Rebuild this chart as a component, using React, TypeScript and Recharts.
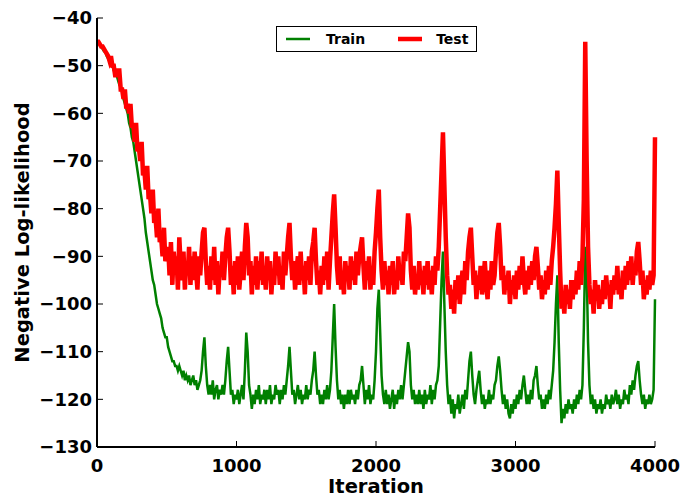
import React from "react";
import { LineChart, Line, XAxis, YAxis, Legend } from "recharts";

// sampled every 10 iterations, 0..4000
const STEP = 10;
const iterations = Array.from({ length: 401 }, (_, i) => i * STEP);

const testNll = [
  // 0..500
  -45, -45, -45.5, -46, -46, -46.5, -47, -47.5, -48, -49,
  -48, -50, -50, -52, -52, -51, -51, -55, -55, -57,
  -55, -59, -58, -60, -58, -63, -62, -66, -62, -68,
  -67, -70, -66, -73, -72, -76, -71, -78, -77, -81,
  -76, -83, -82, -86, -80, -87, -86, -90, -84, -91,
  -90,
  // 510..1000
  -88, -94, -87, -96, -89, -93, -90, -97, -86, -92,
  -95, -89, -97, -91, -94, -88, -96, -90, -95, -89,
  -93, -97, -90, -94, -89, -85, -84, -91, -96, -92,
  -97, -90, -95, -88, -96, -91, -98, -92, -94, -89,
  -95, -90, -86, -84, -89, -96, -92, -98, -91, -96,
  // 1010..1500
  -90, -97, -93, -89, -95, -88, -83, -86, -94, -91,
  -98, -92, -96, -90, -97, -91, -95, -89, -96, -92,
  -97, -90, -95, -91, -98, -93, -96, -89, -94, -90,
  -96, -92, -97, -89, -94, -90, -86, -83, -90, -95,
  -91, -97, -93, -90, -96, -89, -95, -92, -98, -91,
  // 1510..2000
  -95, -90, -96, -89, -87, -84, -91, -96, -93, -98,
  -92, -96, -90, -95, -89, -97, -91, -86, -81, -77,
  -84, -92, -96, -90, -97, -93, -98, -91, -95, -92,
  -97, -90, -95, -91, -96, -89, -94, -90, -88, -86,
  -92, -97, -91, -95, -90, -97, -92, -96, -89, -85,
  // 2010..2500
  -80, -76, -86, -93, -97, -91, -96, -93, -98, -92,
  -96, -91, -98, -93, -97, -90, -95, -92, -96, -89,
  -91, -86, -81, -84, -93, -97, -92, -98, -94, -97,
  -91, -96, -93, -98, -92, -96, -91, -97, -93, -98,
  -92, -96, -90, -93, -88, -80, -72, -64, -75, -86,
  // 2510..3000
  -94, -98, -96, -101, -97, -102, -95, -99, -94, -100,
  -96, -93, -98, -91, -95, -89, -86, -84, -90, -96,
  -93, -99, -94, -97, -92, -98, -95, -91, -96, -99,
  -93, -97, -91, -96, -94, -89, -85, -83, -88, -95,
  -92, -98, -94, -97, -93, -100, -95, -98, -94, -99,
  // 3010..3500
  -93, -97, -92, -96, -90, -95, -98, -93, -97, -92,
  -96, -91, -95, -90, -88, -92, -97, -94, -99, -95,
  -98, -93, -97, -92, -96, -91, -88, -84, -79, -72,
  -83, -93, -101, -98, -102, -96, -100, -97, -101, -95,
  -99, -95, -98, -93, -97, -91, -96, -90, -78, -45,
  // 3510..4000
  -70, -88, -96, -100, -97, -102, -95, -99, -96, -101,
  -97, -100, -95, -99, -94, -98, -96, -101, -95, -98,
  -94, -97, -92, -98, -95, -99, -93, -97, -92, -96,
  -91, -95, -90, -96, -92, -94, -89, -87, -91, -96,
  -93, -99, -95, -98, -94, -97, -93, -96, -94, -65,
];

const trainNll = [
  // 0..500
  -45, -45, -45.5, -46, -46.5, -47, -47, -48, -48.5, -49,
  -49, -50, -51, -51.5, -52, -53, -54, -54.5, -55, -57,
  -58, -59, -60, -62, -63, -65, -66, -68, -70, -72,
  -74, -76, -78, -80, -82, -85, -87, -89, -91, -93,
  -95, -96, -98, -100, -101, -102, -103, -105, -106, -107,
  -107,
  // 510..1000
  -109, -110, -111, -112, -112, -113, -113, -114, -113, -114,
  -115, -114, -116, -115, -116, -115, -117, -116, -115, -117,
  -116, -118, -117, -116, -114, -110, -107, -113, -117, -119,
  -117, -119, -116, -120, -118, -117, -120, -118, -119, -117,
  -119, -116, -112, -109, -114, -119, -118, -121, -119, -120,
  // 1010..1500
  -118, -121, -119, -117, -120, -114, -106, -110, -117, -119,
  -122, -119, -121, -118, -120, -117, -121, -119, -120, -118,
  -121, -118, -120, -117, -121, -119, -120, -117, -119, -118,
  -121, -118, -120, -117, -119, -116, -113, -109, -114, -119,
  -118, -121, -119, -117, -120, -118, -121, -119, -120, -117,
  // 1510..2000
  -120, -118, -119, -116, -114, -110, -115, -119, -118, -121,
  -119, -121, -118, -120, -117, -120, -118, -114, -107, -100,
  -109, -116, -120, -118, -121, -119, -122, -119, -121, -118,
  -121, -118, -120, -119, -121, -118, -120, -117, -116, -113,
  -117, -121, -118, -120, -117, -121, -119, -120, -116, -110,
  // 2010..2500
  -101, -97, -106, -115, -119, -121, -118, -121, -119, -122,
  -120, -118, -122, -119, -121, -118, -120, -117, -120, -117,
  -114, -111, -108, -110, -117, -120, -118, -121, -119, -121,
  -118, -121, -119, -122, -118, -121, -119, -120, -117, -121,
  -118, -120, -117, -116, -113, -104, -95, -89, -100, -110,
  // 2510..3000
  -117, -121, -119, -123, -120, -124, -121, -122, -119, -123,
  -121, -119, -122, -118, -120, -116, -112, -110, -115, -119,
  -121, -118, -116, -114, -118, -121, -119, -122, -120, -121,
  -118, -121, -119, -120, -117, -116, -113, -111, -114, -118,
  -121, -119, -122, -120, -123, -124, -121, -123, -120, -122,
  // 3010..3500
  -119, -121, -118, -120, -117, -115, -118, -121, -119, -121,
  -118, -120, -116, -115, -113, -117, -120, -119, -122, -120,
  -122, -119, -121, -118, -120, -117, -114, -108, -100, -94,
  -108, -118, -125, -122, -124, -121, -123, -120, -122, -121,
  -123, -120, -122, -119, -121, -118, -120, -117, -105, -88,
  // 3510..4000
  -92, -108, -117, -121, -119, -122, -120, -123, -121, -122,
  -120, -123, -121, -122, -119, -121, -120, -122, -119, -121,
  -120, -118, -121, -119, -122, -120, -121, -118, -120, -119,
  -121, -117, -119, -116, -118, -115, -113, -112, -116, -119,
  -121, -119, -122, -120, -121, -119, -121, -120, -118, -99,
];

const xTicks = [0, 1000, 2000, 3000, 4000];
const yTicks = [-130, -120, -110, -100, -90, -80, -70, -60, -50, -40];

const data = iterations.map((iter, i) => ({
  iter,
  train: trainNll[i],
  test: testNll[i],
}));

const FONT = "'DejaVu Sans', sans-serif";
const tickStyle = { fill: "#000", fontSize: 18, fontWeight: "bold", fontFamily: FONT };
const fmt = (v: number) => (v < 0 ? `\u2212${-v}` : `${v}`);
const noLabel = () => <g />;

const YTitle = (props: any) => {
  const vb = props.viewBox || {};
  const cx = 22;
  const cy = (vb.y ?? 18) + (vb.height ?? 429) / 2;
  return (
    <text
      x={cx}
      y={cy}
      transform={`rotate(-90 ${cx} ${cy})`}
      textAnchor="middle"
      dominantBaseline="central"
      style={{ fontSize: 19.5, fontWeight: "bold", fontFamily: FONT, fill: "#000" }}
    >
      Negative Log-likelihood
    </text>
  );
};

const XTitle = (props: any) => {
  const vb = props.viewBox || {};
  const cx = (vb.x ?? 97) + (vb.width ?? 558) / 2;
  return (
    <text
      x={cx}
      y={493}
      textAnchor="middle"
      style={{ fontSize: 19.5, fontWeight: "bold", fontFamily: FONT, fill: "#000" }}
    >
      Iteration
    </text>
  );
};

const lineThickness: Record<string, number> = { Train: 2.5, Test: 4.5 };
const legendOrder = ["Train", "Test"];

const LegendBox = (props: any) => {
  const items = [...(props.payload || [])].sort(
    (a: any, b: any) => legendOrder.indexOf(a.value) - legendOrder.indexOf(b.value)
  );
  return (
    <div
      style={{
        width: 201,
        height: 26,
        border: "1px solid #000",
        boxSizing: "border-box",
        background: "#fff",
        display: "flex",
        alignItems: "center",
        fontFamily: FONT,
        fontWeight: "bold",
        fontSize: 14,
        color: "#000",
      }}
    >
      {items.map((e: any, i: number) => (
        <div key={e.value} style={{ display: "flex", alignItems: "center", marginLeft: i === 0 ? 9 : 33 }}>
          <svg width={24} height={8}>
            <line x1={0} x2={24} y1={4} y2={4} stroke={e.color} strokeWidth={lineThickness[e.value] ?? 2} />
          </svg>
          <span style={{ marginLeft: i === 0 ? 16 : 14 }}>{e.value}</span>
        </div>
      ))}
    </div>
  );
};

export default function App() {
  return (
    <div style={{ position: "absolute", left: 0, top: 0, fontFamily: FONT }}>
      <LineChart width={681} height={499} data={data} margin={{ top: 18, right: 26, left: 0, bottom: 0 }}>
        <XAxis
          dataKey="iter"
          type="number"
          domain={[0, 4000]}
          ticks={xTicks}
          height={52}
          tickSize={-6}
          tickMargin={18}
          tick={tickStyle}
          tickFormatter={fmt}
          axisLine={{ stroke: "#000", strokeWidth: 2 }}
          tickLine={{ stroke: "#000", strokeWidth: 1 }}
          label={<XTitle />}
          interval={0}
        />
        <XAxis
          xAxisId="top"
          orientation="top"
          type="number"
          domain={[0, 4000]}
          ticks={xTicks}
          height={0}
          tickSize={-6}
          tick={noLabel}
          axisLine={{ stroke: "#000", strokeWidth: 2 }}
          tickLine={{ stroke: "#000", strokeWidth: 1 }}
        />
        <YAxis
          type="number"
          domain={[-130, -40]}
          ticks={yTicks}
          width={97}
          tickSize={-6}
          tickMargin={11}
          tick={tickStyle}
          tickFormatter={fmt}
          axisLine={{ stroke: "#000", strokeWidth: 2 }}
          tickLine={{ stroke: "#000", strokeWidth: 1 }}
          label={<YTitle />}
          interval={0}
        />
        <YAxis
          yAxisId="right"
          orientation="right"
          type="number"
          domain={[-130, -40]}
          ticks={yTicks}
          width={0}
          tickSize={-6}
          tick={noLabel}
          axisLine={{ stroke: "#000", strokeWidth: 2 }}
          tickLine={{ stroke: "#000", strokeWidth: 1 }}
        />
        <Legend
          layout="horizontal"
          verticalAlign="middle"
          align="center"
          wrapperStyle={{ top: 26, left: 276, width: 201 }}
          content={<LegendBox />}
        />
        <Line
          name="Train"
          dataKey="train"
          type="linear"
          stroke="#008000"
          strokeWidth={2.5}
          dot={false}
          isAnimationActive={false}
        />
        <Line
          name="Test"
          dataKey="test"
          type="linear"
          stroke="#ff0000"
          strokeWidth={4.5}
          dot={false}
          isAnimationActive={false}
        />
      </LineChart>
    </div>
  );
}
